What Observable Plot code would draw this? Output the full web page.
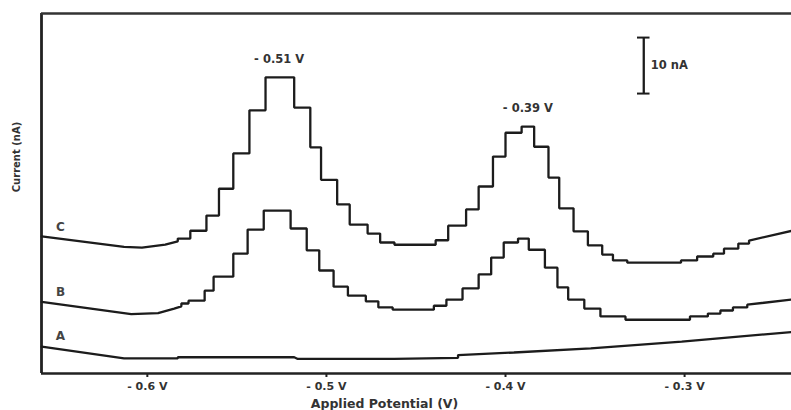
<!DOCTYPE html>
<html>
<head>
<meta charset="utf-8">
<script src="https://cdn.jsdelivr.net/npm/d3@7"></script>
<script src="https://cdn.jsdelivr.net/npm/@observablehq/plot@0.6"></script>
<style>
  html, body { margin: 0; padding: 0; background: #fff; }
  #chart svg { display: block; }
</style>
</head>
<body>
<div id="chart"></div>
<script>
// ---- Data (Applied potential in V, current in nA, vertices of each trace) ----
const potC = [-0.659,-0.613,-0.603,-0.590,-0.583,-0.583,-0.576,-0.576,-0.567,-0.567,-0.560,-0.560,-0.552,-0.552,-0.543,-0.543,-0.534,-0.534,-0.518,-0.518,-0.509,-0.509,-0.503,-0.503,-0.494,-0.494,-0.487,-0.487,-0.477,-0.477,-0.470,-0.470,-0.462,-0.462,-0.446,-0.439,-0.439,-0.432,-0.432,-0.422,-0.422,-0.415,-0.415,-0.407,-0.407,-0.400,-0.400,-0.391,-0.391,-0.384,-0.384,-0.376,-0.376,-0.370,-0.370,-0.362,-0.362,-0.354,-0.354,-0.346,-0.346,-0.340,-0.340,-0.332,-0.332,-0.302,-0.302,-0.293,-0.293,-0.284,-0.284,-0.278,-0.278,-0.270,-0.270,-0.264,-0.264,-0.240];
const curC = [24.5,22.6,22.5,23.0,23.6,24.1,24.1,25.5,25.5,28.2,28.2,33.0,33.0,39.3,39.3,47.0,47.0,52.9,52.9,47.5,47.5,40.4,40.4,34.6,34.6,30.2,30.2,26.6,26.6,25.0,25.0,23.4,23.4,23.0,23.0,23.0,23.8,23.8,26.4,26.4,29.3,29.3,33.4,33.4,38.75,38.75,43.0,43.0,44.1,44.1,40.5,40.5,35.0,35.0,29.5,29.5,25.4,25.4,22.9,22.9,21.25,21.25,20.2,20.2,19.8,19.8,20.2,20.2,20.9,20.9,21.4,21.4,22.3,22.3,23.2,23.2,23.75,25.5];

const potB = [-0.659,-0.609,-0.594,-0.585,-0.581,-0.581,-0.577,-0.577,-0.568,-0.568,-0.563,-0.563,-0.552,-0.552,-0.544,-0.544,-0.535,-0.535,-0.520,-0.520,-0.511,-0.511,-0.504,-0.504,-0.496,-0.496,-0.488,-0.488,-0.478,-0.478,-0.471,-0.471,-0.463,-0.463,-0.446,-0.440,-0.440,-0.433,-0.433,-0.424,-0.424,-0.415,-0.415,-0.408,-0.408,-0.401,-0.401,-0.393,-0.393,-0.387,-0.387,-0.378,-0.378,-0.371,-0.371,-0.365,-0.365,-0.356,-0.356,-0.347,-0.347,-0.333,-0.333,-0.297,-0.297,-0.287,-0.287,-0.280,-0.280,-0.273,-0.273,-0.265,-0.265,-0.240];
const curB = [12.8,10.6,10.8,11.6,12.0,12.5,12.5,13.0,13.0,14.8,14.8,17.3,17.3,21.4,21.4,25.7,25.7,29.1,29.1,25.9,25.9,22.0,22.0,18.4,18.4,15.5,15.5,13.9,13.9,12.9,12.9,11.8,11.8,11.4,11.4,11.4,12.1,12.1,13.2,13.2,15.2,15.2,17.7,17.7,20.7,20.7,23.4,23.4,24.1,24.1,22.1,22.1,18.9,18.9,15.4,15.4,13.2,13.2,11.6,11.6,10.2,10.2,9.6,9.6,10.2,10.2,10.7,10.7,11.25,11.25,11.8,11.8,12.3,13.2];

const potA = [-0.659,-0.613,-0.583,-0.583,-0.518,-0.516,-0.462,-0.4265,-0.4265,-0.3953,-0.3524,-0.3016,-0.2403];
const curA = [4.8,2.7,2.7,2.9,2.9,2.6,2.6,2.8,3.3,3.75,4.5,5.7,7.4];

const seriesNames = ["C", "B", "A"];
const seriesLabelPot = -0.6485;
const seriesLabelCur = [26.1, 14.6, 6.6];

const tickValues = [-0.6, -0.5, -0.4, -0.3];
const peakLabels = ["- 0.51 V", "- 0.39 V"];
const peakPot = [-0.5264, -0.3875];
const peakCur = [56.1, 47.3];

const scaleBarPot = -0.3228;
const scaleBarFrom = 50;
const scaleBarTo = 60;
const scaleBarText = "10 nA";

const xLabel = "Applied Potential (V)";
const yLabel = "Current (nA)";

const xDomain = [-0.6591, -0.2403];
const yDomain = [0, 64.3];

// ---- Build tables ----
const toRows = (pots, curs, s) => pots.map((p, i) => ({pot: p, cur: curs[i], s}));
const traces = [
  ...toRows(potC, curC, "C"),
  ...toRows(potB, curB, "B"),
  ...toRows(potA, curA, "A")
];
const seriesLabels = seriesNames.map((n, i) => ({name: n, pot: seriesLabelPot, cur: seriesLabelCur[i]}));
const peaks = peakLabels.map((t, i) => ({t, pot: peakPot[i], cur: peakCur[i]}));
const capHalf = 0.0035;
const caps = [scaleBarFrom, scaleBarTo].map(c => ({x1: scaleBarPot - capHalf, x2: scaleBarPot + capHalf, cur: c}));

const ink = "#1c1c1c";
const font = "'DejaVu Sans', Verdana, sans-serif";

const chart = Plot.plot({
  width: 791,
  height: 410,
  marginLeft: 41,
  marginRight: 0,
  marginTop: 13,
  marginBottom: 37,
  style: {fontFamily: font, background: "#fff", color: "#333", overflow: "visible"},
  x: {domain: xDomain},
  y: {domain: yDomain, axis: null},
  marks: [
    // frame
    Plot.ruleX([xDomain[0]], {stroke: "#222", strokeWidth: 2.8}),
    Plot.ruleY([yDomain[0]], {stroke: "#222", strokeWidth: 2.6}),
    Plot.ruleY([yDomain[1]], {stroke: "#333", strokeWidth: 2.4}),
    // x axis
    Plot.axisX({
      ticks: tickValues,
      tickSize: 4,
      tickPadding: 5,
      tickFormat: d => "- " + Math.abs(d).toFixed(1) + " V",
      label: null,
      fontSize: 11,
      fontWeight: "bold",
      stroke: "#222",
      strokeWidth: 2,
      fill: "#333"
    }),
    Plot.text([xLabel], {
      frameAnchor: "bottom", dx: -32, dy: 34.5,
      fontSize: 12.5, fontWeight: "bold", fill: "#333"
    }),
    // traces
    Plot.line(traces, {x: "pot", y: "cur", z: "s", stroke: ink, strokeWidth: 2.3, strokeLinejoin: "miter"}),
    // series labels
    Plot.text(seriesLabels, {x: "pot", y: "cur", text: "name", fontSize: 12, fontWeight: "bold", fill: "#444"}),
    // peak labels
    Plot.text(peaks, {x: "pot", y: "cur", text: "t", fontSize: 11.5, fontWeight: "bold", fill: "#333"}),
    // scale bar
    Plot.ruleX([scaleBarPot], {y1: scaleBarFrom, y2: scaleBarTo, stroke: ink, strokeWidth: 2.3}),
    Plot.ruleY(caps, {x1: "x1", x2: "x2", y: "cur", stroke: ink, strokeWidth: 2}),
    Plot.text([scaleBarText], {x: scaleBarPot, y: (scaleBarFrom + scaleBarTo) / 2, textAnchor: "start", dx: 7, fontSize: 11.5, fontWeight: "bold", fill: "#333"})
  ]
});

// y-axis title (rotated), placed at the left of the frame
d3.select(chart).append("text")
  .attr("transform", "translate(17,157) rotate(-90)")
  .attr("text-anchor", "middle")
  .attr("dominant-baseline", "middle")
  .attr("font-family", font)
  .attr("font-size", 10)
  .attr("font-weight", "bold")
  .attr("fill", "#333")
  .text(yLabel);

document.getElementById("chart").appendChild(chart);
</script>
</body>
</html>
